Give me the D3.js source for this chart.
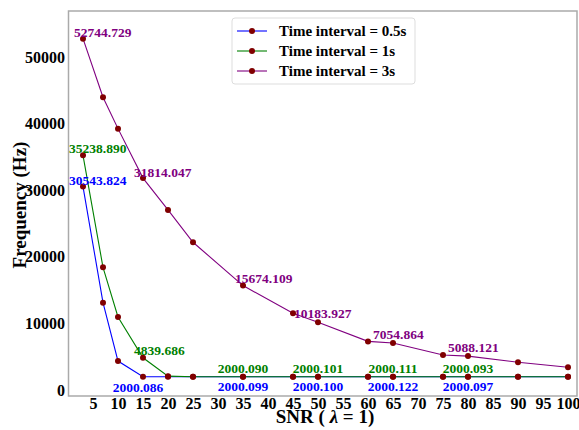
<!DOCTYPE html>
<html>
<head>
<meta charset="utf-8">
<script src="https://cdn.jsdelivr.net/npm/d3@7"></script>
<style>
  body { margin: 0; background: #fff; }
  svg text { font-family: "Liberation Serif", "Times New Roman", serif; font-weight: bold; }
</style>
</head>
<body>
<div id="graf"></div>
<script>
// SNR values on the x axis
const snr = [3, 7, 10, 15, 20, 25, 35, 45, 50, 60, 65, 75, 80, 90, 100]

// frequency (Hz) for each time interval
const freq05 = [30543.824, 13110, 4350, 2000.086, 2000.09, 2000.1, 2000.099, 2000.1, 2000.100, 2000.1, 2000.122, 2000.1, 2000.097, 2000.1, 2000.1]
const freq1 = [35238.890, 18420, 10960, 4839.686, 2080, 2000.1, 2000.090, 2000.1, 2000.101, 2000.1, 2000.111, 2000.1, 2000.093, 2000.1, 2000.1]
const freq3 = [52744.729, 43950, 39240, 31814.047, 27030, 22180, 15674.109, 11520, 10183.927, 7300, 7054.864, 5260, 5088.121, 4160, 3410]

const seriesNames = ['Time interval = 0.5s', 'Time interval = 1s', 'Time interval = 3s']
const xTicks = [5, 10, 15, 20, 25, 30, 35, 40, 45, 50, 55, 60, 65, 70, 75, 80, 85, 90, 95, 100]
const yTicks = [0, 10000, 20000, 30000, 40000, 50000]

// which points get a value label
const labelIdx = [0, 3, 6, 8, 10, 12]

const colores = ['#0000ff', '#008000', '#800080']
const markerColor = '#800000'

const ancho = 579
const alto = 430
const margins = { left: 68, top: 11, right: 1, bottom: 34 }

const svg = d3.select('#graf')
  .append('svg')
  .attr('width', ancho)
  .attr('height', alto)

const x = d3.scaleLinear().domain([0, 102]).range([margins.left, ancho - margins.right])
const y = d3.scaleLinear().domain([-900, 56900]).range([alto - margins.bottom, margins.top])

// frame
svg.append('rect')
  .attr('x', x.range()[0] + 0.5)
  .attr('y', y.range()[1])
  .attr('width', x.range()[1] - x.range()[0] - 1.5)
  .attr('height', y.range()[0] - y.range()[1])
  .attr('fill', 'none')
  .attr('stroke', '#aaaaaa')
  .attr('stroke-width', 1.5)

// axes (no tick marks, only labels)
const xAxis = d3.axisBottom(x).tickValues(xTicks).tickSize(0).tickPadding(2)
const yAxis = d3.axisLeft(y).tickValues(yTicks).tickSize(0).tickPadding(3).tickFormat(d3.format('d'))

svg.append('g')
  .attr('transform', `translate(0, ${y.range()[0]})`)
  .call(xAxis)
  .call(g => g.select('.domain').remove())
  .selectAll('text')
  .attr('font-size', 16)
  .attr('fill', '#000')
  .style('font-family', '"Liberation Serif", serif')

svg.append('g')
  .attr('transform', `translate(${x.range()[0]}, 0)`)
  .call(yAxis)
  .call(g => g.select('.domain').remove())
  .selectAll('text')
  .attr('font-size', 16)
  .attr('fill', '#000')
  .style('font-family', '"Liberation Serif", serif')

// axis titles
svg.append('text')
  .attr('transform', 'translate(26, 205) rotate(-90)')
  .attr('text-anchor', 'middle')
  .attr('font-size', 19)
  .text('Frequency (Hz)')

const xt = svg.append('text')
  .attr('x', 325)
  .attr('y', 423)
  .attr('text-anchor', 'middle')
  .attr('font-size', 19)
xt.append('tspan').text('SNR ( ')
xt.append('tspan').attr('font-style', 'italic').text('λ')
xt.append('tspan').text(' = 1)')

// lines + markers
const todas = [freq05, freq1, freq3]
const linea = d3.line().x((d, i) => x(snr[i])).y(d => y(d))

todas.forEach((serie, s) => {
  svg.append('path')
    .datum(serie)
    .attr('d', linea)
    .attr('fill', 'none')
    .attr('stroke', colores[s])
    .attr('stroke-width', 1.1)
})

todas.forEach((serie, s) => {
  svg.selectAll(`.pt${s}`)
    .data(serie)
    .enter()
    .append('circle')
    .attr('class', `pt${s}`)
    .attr('cx', (d, i) => x(snr[i]))
    .attr('cy', d => y(d))
    .attr('r', 3)
    .attr('fill', markerColor)
})

// value labels: offsets (px) from the point, per series and label
const offsets = [
  [[-14, -1.5, 'start'], [-5, 15, 'middle'], [0, 14, 'middle'], [0, 14, 'middle'], [0, 14, 'middle'], [0, 14, 'middle']],
  [[-14, -2, 'start'], [-9, -3, 'start'], [0, -4, 'middle'], [0, -4, 'middle'], [0, -4, 'middle'], [0, -4, 'middle']],
  [[-9, -2, 'start'], [-9, -1, 'start'], [-8, -3, 'start'], [-24, -4, 'start'], [-20, -4, 'start'], [-20, -4, 'start']]
]

todas.forEach((serie, s) => {
  labelIdx.forEach((idx, k) => {
    const o = offsets[s][k]
    svg.append('text')
      .attr('x', x(snr[idx]) + o[0])
      .attr('y', y(serie[idx]) + o[1])
      .attr('text-anchor', o[2])
      .attr('font-size', 13.5)
      .attr('fill', colores[s])
      .text(serie[idx].toFixed(3))
  })
})

// legend
const leg = svg.append('g').attr('transform', 'translate(232, 18)')
leg.append('rect')
  .attr('width', 183)
  .attr('height', 66)
  .attr('rx', 3)
  .attr('fill', 'rgba(255,255,255,0.8)')
  .attr('stroke', '#dddddd')

seriesNames.forEach((nombre, s) => {
  const ly = 13 + s * 20
  leg.append('line')
    .attr('x1', 5).attr('x2', 35)
    .attr('y1', ly).attr('y2', ly)
    .attr('stroke', colores[s])
    .attr('stroke-width', 1.1)
  leg.append('circle')
    .attr('cx', 20).attr('cy', ly).attr('r', 3)
    .attr('fill', markerColor)
  leg.append('text')
    .attr('x', 47)
    .attr('y', ly + 5)
    .attr('font-size', 15)
    .text(nombre)
})
</script>
</body>
</html>
